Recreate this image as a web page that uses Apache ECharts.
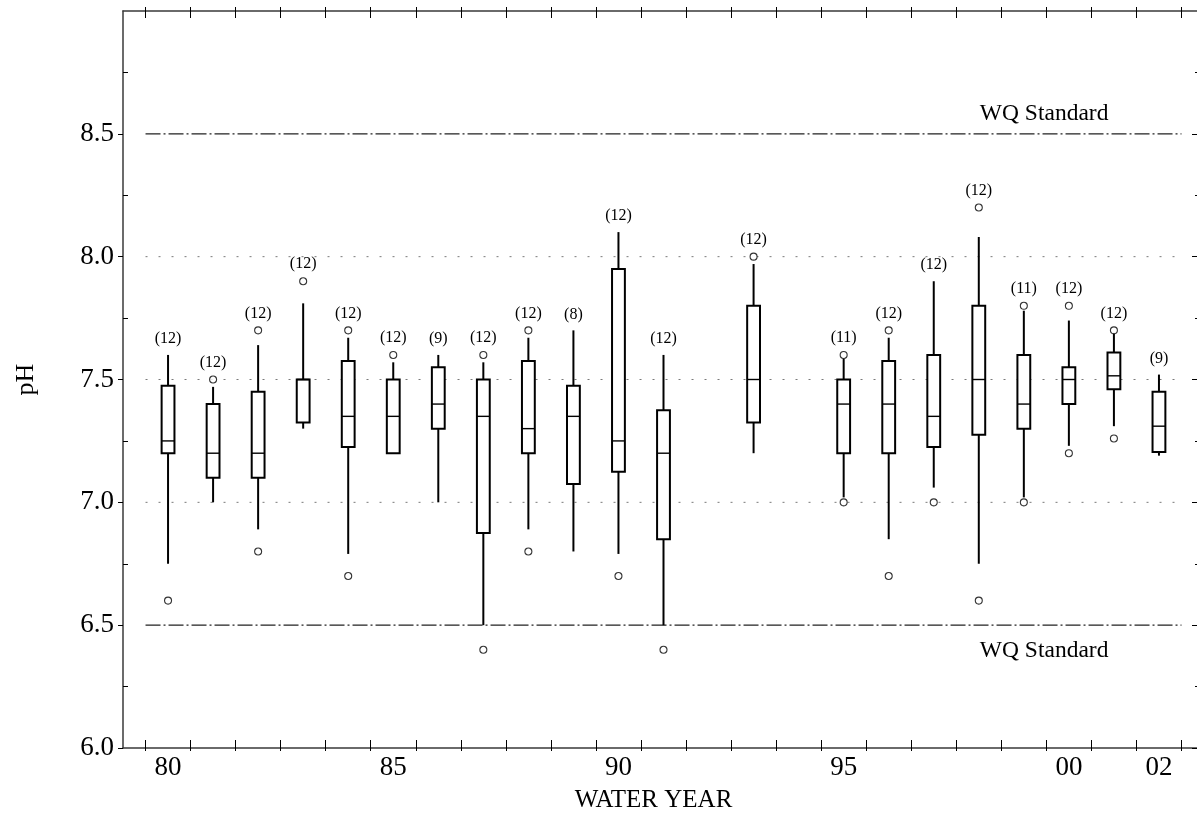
<!DOCTYPE html>
<html>
<head>
<meta charset="utf-8">
<script src="https://cdn.jsdelivr.net/npm/echarts@6/dist/echarts.min.js"></script>
<style>
  html, body { margin: 0; padding: 0; background: #fff; }
  #chart { width: 1197px; height: 819px; }
</style>
</head>
<body>
<div id="chart"></div>
<script>
// Annual pH distributions by water year (80 = 1980, 100 = 2000 ...)
const years       = [80, 81, 82, 83, 84, 85, 86, 87, 88, 89, 90, 91, 93, 95, 96, 97, 98, 99, 100, 101, 102];
const lowWhisker  = [6.75, 7.00, 6.89, 7.30, 6.79, 7.20, 7.00, 6.50, 6.89, 6.80, 6.79, 6.50, 7.20, 7.02, 6.85, 7.06, 6.75, 7.02, 7.23, 7.31, 7.19];
const q1          = [7.20, 7.10, 7.10, 7.325, 7.225, 7.20, 7.30, 6.875, 7.20, 7.075, 7.125, 6.85, 7.325, 7.20, 7.20, 7.225, 7.275, 7.30, 7.40, 7.46, 7.205];
const medians     = [7.25, 7.20, 7.20, 7.50, 7.35, 7.35, 7.40, 7.35, 7.30, 7.35, 7.25, 7.20, 7.50, 7.40, 7.40, 7.35, 7.50, 7.40, 7.50, 7.515, 7.31];
const q3          = [7.475, 7.40, 7.45, 7.50, 7.575, 7.50, 7.55, 7.50, 7.575, 7.475, 7.95, 7.375, 7.80, 7.50, 7.575, 7.60, 7.80, 7.60, 7.55, 7.61, 7.45];
const highWhisker = [7.60, 7.47, 7.64, 7.81, 7.67, 7.57, 7.60, 7.57, 7.67, 7.70, 8.10, 7.60, 7.97, 7.585, 7.67, 7.90, 8.08, 7.78, 7.74, 7.69, 7.52];
const counts      = [12, 12, 12, 12, 12, 12, 9, 12, 12, 8, 12, 12, 12, 11, 12, 12, 12, 11, 12, 12, 9];

// Individual values beyond the whiskers: [year, pH]
const outliers = [
  [80, 6.6], [81, 7.5], [82, 7.7], [82, 6.8], [83, 7.9], [84, 7.7], [84, 6.7],
  [85, 7.6], [87, 7.6], [87, 6.4], [88, 7.7], [88, 6.8], [90, 6.7], [91, 6.4],
  [93, 8.0], [95, 7.6], [95, 7.0], [96, 7.7], [96, 6.7], [97, 7.0], [98, 8.2],
  [98, 6.6], [99, 7.8], [99, 7.0], [100, 7.8], [100, 7.2], [101, 7.7], [101, 7.26]
];

// Axis ticks and labels
const yearTicks    = [79.5, 80.5, 81.5, 82.5, 83.5, 84.5, 85.5, 86.5, 87.5, 88.5, 89.5, 90.5,
                      91.5, 92.5, 93.5, 94.5, 95.5, 96.5, 97.5, 98.5, 99.5, 100.5, 101.5, 102.5];
const yearLabels   = [80, 85, 90, 95, 100, 102];
const phLabels     = [6.0, 6.5, 7.0, 7.5, 8.0, 8.5];
const phMinorTicks = [6.25, 6.75, 7.25, 7.75, 8.25, 8.75];

// Reference levels
const gridLevels     = [7.0, 7.5, 8.0];
const standardLevels = [6.5, 8.5];
const standardText   = 'WQ Standard';

const SERIF = "'Liberation Serif', 'DejaVu Serif', 'Times New Roman', serif";
const INK = '#000';
const AXIS = '#3a3a3a';

// Rows for the box series: year, low, q1, median, q3, high, n, top outlier (or NaN)
const boxRows = years.map((y, i) => {
  const above = outliers.filter(o => o[0] === y && o[1] > highWhisker[i]).map(o => o[1]);
  const topOutlier = above.length ? Math.max(...above) : NaN;
  return [y, lowWhisker[i], q1[i], medians[i], q3[i], highWhisker[i], counts[i], topOutlier];
});

const xMin = 79, xMax = 103;
const lineFrom = yearTicks[0], lineTo = yearTicks[yearTicks.length - 1];

function levelSeries(level, dash, color, width) {
  return {
    type: 'line',
    xAxisIndex: 0, yAxisIndex: 0,
    data: [[lineFrom, level], [lineTo, level]],
    symbol: 'none',
    silent: true,
    z: 1,
    lineStyle: { color: color, width: width, type: dash },
    animation: false
  };
}

const baseX = { type: 'value', min: xMin, max: xMax, splitLine: { show: false } };
const baseY = { type: 'value', min: 6, max: 9, splitLine: { show: false } };

const option = {
  animation: false,
  backgroundColor: '#fff',
  grid: { left: 123, top: 11, width: 1081, height: 737, outerBoundsMode: 'none', containLabel: false },
  xAxis: [
    Object.assign({}, baseX, {
      position: 'bottom',
      axisLine: { show: true, lineStyle: { color: AXIS, width: 1.5 } },
      axisTick: { show: true, inside: true, length: 8, customValues: yearTicks, lineStyle: { color: INK, width: 1 } },
      axisLabel: {
        show: true, customValues: yearLabels, margin: 6,
        fontFamily: SERIF, fontSize: 27, color: INK,
        formatter: v => String(Math.round(v) % 100).padStart(2, '0')
      },
      name: 'WATER YEAR', nameLocation: 'middle', nameGap: 40,
      nameTextStyle: { fontFamily: SERIF, fontSize: 25, color: INK, padding: [0, 20, 0, 0] }
    }),
    Object.assign({}, baseX, {
      position: 'top',
      axisLine: { show: true, lineStyle: { color: AXIS, width: 1.5 } },
      axisTick: { show: true, inside: true, length: 7, customValues: yearTicks, lineStyle: { color: INK, width: 1 } },
      axisLabel: { show: false }
    }),
    Object.assign({}, baseX, {
      position: 'bottom',
      axisLine: { show: false },
      axisTick: { show: true, inside: false, length: 3, customValues: yearTicks, lineStyle: { color: INK, width: 1 } },
      axisLabel: { show: false }
    }),
    Object.assign({}, baseX, {
      position: 'top',
      axisLine: { show: false },
      axisTick: { show: true, inside: false, length: 4, customValues: yearTicks, lineStyle: { color: INK, width: 1 } },
      axisLabel: { show: false }
    })
  ],
  yAxis: [
    Object.assign({}, baseY, {
      position: 'left',
      axisLine: { show: true, lineStyle: { color: AXIS, width: 1.5 } },
      axisTick: { show: true, inside: false, length: 5, customValues: phLabels, lineStyle: { color: INK, width: 1 } },
      axisLabel: {
        show: true, customValues: phLabels, margin: 9,
        fontFamily: SERIF, fontSize: 27, color: INK,
        formatter: v => Number(v).toFixed(1)
      },
      name: 'pH', nameLocation: 'middle', nameGap: 84, nameRotate: 90,
      nameTextStyle: { fontFamily: SERIF, fontSize: 26, color: INK }
    }),
    Object.assign({}, baseY, {
      position: 'left',
      axisLine: { show: false },
      axisTick: { show: true, inside: true, length: 5, customValues: phMinorTicks, lineStyle: { color: INK, width: 1 } },
      axisLabel: { show: false }
    }),
    Object.assign({}, baseY, {
      position: 'right',
      axisLine: { show: true, lineStyle: { color: AXIS, width: 1.5 } },
      axisTick: { show: true, inside: true, length: 12, customValues: phLabels, lineStyle: { color: INK, width: 1 } },
      axisLabel: { show: false }
    }),
    Object.assign({}, baseY, {
      position: 'right',
      axisLine: { show: false },
      axisTick: { show: true, inside: true, length: 9, customValues: phMinorTicks, lineStyle: { color: INK, width: 1 } },
      axisLabel: { show: false }
    })
  ],
  series: [
    ...gridLevels.map(v => levelSeries(v, [2, 11], '#7a7a7a', 1)),
    ...standardLevels.map(v => levelSeries(v, [15, 3, 2, 3], '#222', 1.2)),
    {
      // "WQ Standard" captions on the two standard lines
      type: 'custom',
      xAxisIndex: 0, yAxisIndex: 0,
      silent: true,
      z: 3,
      data: standardLevels.map(v => [99.45, v]),
      renderItem: function (params, api) {
        const p = api.coord([api.value(0), api.value(1)]);
        const isUpper = api.value(1) > 7.5;
        return {
          type: 'text',
          style: {
            text: standardText,
            x: p[0],
            y: isUpper ? p[1] - 8 : p[1] + 14,
            align: 'center',
            verticalAlign: isUpper ? 'bottom' : 'top',
            fontFamily: SERIF, fontSize: 23.5, fill: INK
          }
        };
      }
    },
    {
      // Box-and-whisker glyphs with sample counts
      type: 'custom',
      xAxisIndex: 0, yAxisIndex: 0,
      silent: true,
      z: 5,
      data: boxRows,
      renderItem: function (params, api) {
        const x = api.value(0);
        const pLow = api.coord([x, api.value(1)]);
        const pQ1 = api.coord([x, api.value(2)]);
        const pMed = api.coord([x, api.value(3)]);
        const pQ3 = api.coord([x, api.value(4)]);
        const pHigh = api.coord([x, api.value(5)]);
        const n = api.value(6);
        const topOut = api.value(7);
        const w = api.size([0.285, 0])[0];
        const cx = pMed[0];
        let labelBottom = pHigh[1] - 8;
        if (!isNaN(topOut)) {
          const pOut = api.coord([x, topOut]);
          labelBottom = Math.min(labelBottom, pOut[1] - 9);
        }
        const stroke = { stroke: INK, lineWidth: 2, fill: null };
        return {
          type: 'group',
          children: [
            { type: 'line', shape: { x1: cx, y1: pLow[1], x2: cx, y2: pQ1[1] }, style: stroke },
            { type: 'line', shape: { x1: cx, y1: pQ3[1], x2: cx, y2: pHigh[1] }, style: stroke },
            { type: 'rect', shape: { x: cx - w / 2, y: pQ3[1], width: w, height: pQ1[1] - pQ3[1] },
              style: { stroke: INK, lineWidth: 2, fill: '#fff' } },
            { type: 'line', shape: { x1: cx - w / 2, y1: pMed[1], x2: cx + w / 2, y2: pMed[1] },
              style: { stroke: INK, lineWidth: 1.4 } },
            { type: 'text', style: {
                text: '(' + n + ')', x: cx, y: labelBottom,
                align: 'center', verticalAlign: 'bottom',
                fontFamily: SERIF, fontSize: 16, fill: INK } }
          ]
        };
      }
    },
    {
      type: 'scatter',
      xAxisIndex: 0, yAxisIndex: 0,
      data: outliers,
      symbol: 'circle',
      symbolSize: 7,
      silent: true,
      z: 6,
      itemStyle: { color: '#fff', borderColor: INK, borderWidth: 1.1 }
    }
  ]
};

const chart = echarts.init(document.getElementById('chart'), null, { renderer: 'canvas' });
chart.setOption(option);
</script>
</body>
</html>
